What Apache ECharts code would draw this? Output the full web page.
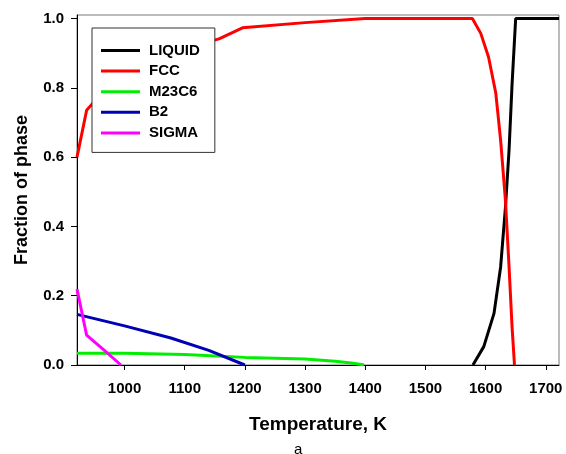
<!DOCTYPE html>
<html>
<head>
<meta charset="utf-8">
<title>Fraction of phase</title>
<script src="https://cdn.jsdelivr.net/npm/echarts@6/dist/echarts.min.js"></script>
<style>
html, body { margin: 0; padding: 0; background: #fff; }
#main { width: 566px; height: 454px; }
</style>
</head>
<body>
<div id="main"></div>
<script>
// temperature (K) / phase fraction
var liquidT = [1579, 1597, 1614, 1625, 1633, 1639, 1644, 1650, 1722];
var liquidF = [0, 0.053, 0.149, 0.283, 0.455, 0.62, 0.81, 1.0, 1.0];

var fccT = [921, 937, 947, 1000, 1100, 1157, 1196, 1300, 1400, 1578, 1592, 1605, 1617, 1625, 1633, 1639, 1644, 1648];
var fccF = [0.6, 0.735, 0.755, 0.84, 0.915, 0.941, 0.973, 0.988, 1.0, 1.0, 0.957, 0.888, 0.784, 0.648, 0.475, 0.283, 0.11, 0];

var m23c6T = [921, 1000, 1100, 1200, 1300, 1350, 1380, 1398];
var m23c6F = [0.034, 0.034, 0.03, 0.022, 0.017, 0.011, 0.005, 0];

var b2T = [921, 1000, 1077, 1140, 1200];
var b2F = [0.146, 0.113, 0.078, 0.042, 0];

var sigmaT = [921, 937, 966, 994];
var sigmaF = [0.219, 0.086, 0.043, 0];

var xTicks = [1000, 1100, 1200, 1300, 1400, 1500, 1600, 1700];
var yTicks = [0, 0.2, 0.4, 0.6, 0.8, 1.0];

var legendNames = ['LIQUID', 'FCC', 'M23C6', 'B2', 'SIGMA'];

function pairs(xs, ys){
	var out = [];
	for(var i=0;i<xs.length;i++){
		out.push([xs[i], ys[i]]);
	}
	return out;
}

function makeLine(name, color, xs, ys){
	return {
		name: name,
		type: 'line',
		data: pairs(xs, ys),
		symbol: 'none',
		smooth: false,
		color: color,
		lineStyle: { color: color, width: 3 }
	};
}

var myChart = echarts.init(document.getElementById('main'));

var option = {
	backgroundColor: '#fff',
	animation: false,
	textStyle: { fontFamily: 'Liberation Sans, Arial, sans-serif' },
	grid: {
		left: 77,
		right: 7,
		top: 15,
		bottom: 89,
		show: true,
		borderColor: '#777',
		borderWidth: 1
	},
	legend: {
		data: legendNames,
		orient: 'vertical',
		left: 92,
		top: 28,
		z: 10,
		icon: 'rect',
		backgroundColor: '#fff',
		borderColor: '#333',
		borderWidth: 1,
		padding: [15, 15, 12, 9],
		itemWidth: 39,
		itemHeight: 3,
		itemGap: 5.6,
		textStyle: { fontSize: 15, fontWeight: 'bold', color: '#000', padding: [0, 0, 0, 4] }
	},
	xAxis: {
		type: 'value',
		min: 921,
		max: 1722,
		name: 'Temperature, K',
		nameLocation: 'middle',
		nameGap: 50,
		nameTextStyle: { fontSize: 19, fontWeight: 'bold', color: '#000' },
		axisLine: { show: true, lineStyle: { color: '#000', width: 1 } },
		axisTick: { show: true, customValues: xTicks, length: 5, lineStyle: { color: '#000' } },
		axisLabel: {
			customValues: xTicks,
			margin: 16,
			fontSize: 15,
			fontWeight: 'bold',
			color: '#000',
			formatter: function(v){ return String(v); }
		},
		splitLine: { show: false }
	},
	yAxis: {
		type: 'value',
		min: 0,
		max: 1.01,
		name: 'Fraction of phase',
		nameLocation: 'middle',
		nameGap: 46,
		nameTextStyle: { fontSize: 18, fontWeight: 'bold', color: '#000' },
		axisLine: { show: true, lineStyle: { color: '#000', width: 1 } },
		axisTick: { show: true, customValues: yTicks, length: 6, lineStyle: { color: '#000' } },
		axisLabel: {
			customValues: yTicks,
			margin: 13,
			fontSize: 15,
			fontWeight: 'bold',
			color: '#000',
			formatter: function(v){ return v.toFixed(1); }
		},
		splitLine: { show: false }
	},
	graphic: [
		{
			type: 'text',
			left: 294,
			top: 442,
			style: { text: 'a', fontSize: 15, fill: '#000', fontFamily: 'Liberation Sans, Arial, sans-serif' }
		}
	],
	series: [
		makeLine('LIQUID', '#000000', liquidT, liquidF),
		makeLine('M23C6', '#00ee00', m23c6T, m23c6F),
		makeLine('B2', '#0000b4', b2T, b2F),
		makeLine('SIGMA', '#ff00ff', sigmaT, sigmaF),
		makeLine('FCC', '#ff0000', fccT, fccF)
	]
};

myChart.setOption(option);
</script>
</body>
</html>
